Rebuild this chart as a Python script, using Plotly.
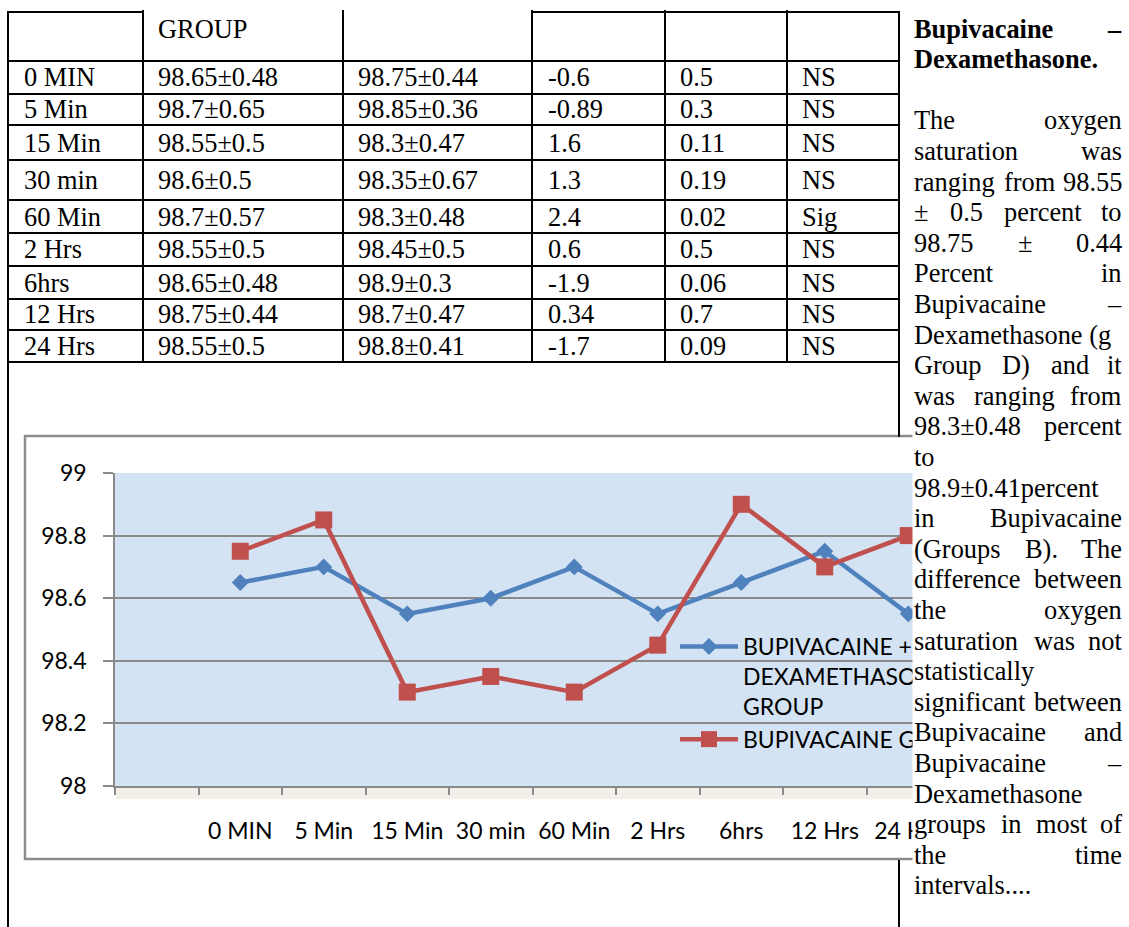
import plotly.graph_objects as go

# ---------------- data ----------------
times = ["0 MIN", "5 Min", "15 Min", "30 min", "60 Min", "2 Hrs", "6hrs", "12 Hrs", "24 Hrs"]
bd_mean = [98.65, 98.7, 98.55, 98.6, 98.7, 98.55, 98.65, 98.75, 98.55]
bd_sd = [0.48, 0.65, 0.5, 0.5, 0.57, 0.5, 0.48, 0.44, 0.5]
b_mean = [98.75, 98.85, 98.3, 98.35, 98.3, 98.45, 98.9, 98.7, 98.8]
b_sd = [0.44, 0.36, 0.47, 0.67, 0.48, 0.5, 0.3, 0.47, 0.41]
t_vals = ["-0.6", "-0.89", "1.6", "1.3", "2.4", "0.6", "-1.9", "0.34", "-1.7"]
p_vals = ["0.5", "0.3", "0.11", "0.19", "0.02", "0.5", "0.06", "0.7", "0.09"]
sig = ["NS", "NS", "NS", "NS", "Sig", "NS", "NS", "NS", "NS"]
series_names = ["BUPIVACAINE +<br>DEXAMETHASONE<br>GROUP", "BUPIVACAINE GROUP"]
header_text = "GROUP"
heading_lines = [("Bupivacaine –", True), ("Dexamethasone.", False)]
paragraph_lines = [
    ("The oxygen", True), ("saturation was", True), ("ranging from 98.55", True),
    ("± 0.5 percent to", True), ("98.75 ± 0.44", True), ("Percent in", True),
    ("Bupivacaine –", True), ("Dexamethasone (g", False), ("Group D) and it", True),
    ("was ranging from", True), ("98.3±0.48 percent", True), ("to", False),
    ("98.9±0.41percent", False), ("in Bupivacaine", True), ("(Groups B). The", True),
    ("difference between", True), ("the oxygen", True), ("saturation was not", True),
    ("statistically", False), ("significant between", True), ("Bupivacaine and", True),
    ("Bupivacaine –", True), ("Dexamethasone", False), ("groups in most of", True),
    ("the time", True), ("intervals....", False),
]

# ---------------- page geometry helpers ----------------
W, H = 1129, 927
def px(x):
    return x / W
def py(y):
    return 1 - y / H

BLUE = "#4f81bd"
RED = "#c0504d"
GRID = "#8a8a8a"
SERIF = "Liberation Serif, Times New Roman, serif"
SANS = "Lato, Open Sans, sans-serif"
FS = 26.4

# Times metrics (per 1000 em) for justification
TR = {' ': 250, '(': 333, ')': 333, '.': 250, '±': 564, '–': 500, '+': 564}
for c in '0123456789':
    TR[c] = 500
TR.update(dict(A=722, B=667, C=667, D=722, E=611, G=722, P=556, R=667, T=611, U=722, O=722))
TR.update(dict(a=444, b=500, c=444, d=500, e=444, f=333, g=500, h=500, i=278, l=278, m=778,
               n=500, o=500, p=500, r=333, s=389, t=278, u=500, v=500, w=722, x=500, y=500))
TB = dict(TR)
TB.update(dict(a=500, n=556, p=556, u=556, h=556, m=833, t=333))

def text_w(s, bold=False):
    tbl = TB if bold else TR
    return sum(tbl.get(ch, 500) for ch in s) / 1000 * FS

fig = go.Figure()

fig.add_trace(go.Scatter(
    x=times, y=bd_mean, mode="lines+markers", name=series_names[0],
    line=dict(color=BLUE, width=4.5),
    marker=dict(symbol="diamond", size=13, color=BLUE),
))
fig.add_trace(go.Scatter(
    x=times, y=b_mean, mode="lines+markers", name=series_names[1],
    line=dict(color=RED, width=4.5),
    marker=dict(symbol="square", size=17, color=RED),
))

shapes = []
# chart frame
shapes.append(dict(type="rect", xref="paper", yref="paper", x0=px(25), x1=px(1000),
                   y0=py(859), y1=py(436), line=dict(color="#8c8c8c", width=2.5),
                   fillcolor="rgba(0,0,0,0)", layer="below"))
# soft shadow under plot area
shapes.append(dict(type="rect", xref="paper", yref="paper", x0=px(116), x1=px(950),
                   y0=py(799), y1=py(787), line=dict(width=0),
                   fillcolor="#f1efe8", layer="below"))

# table lines
def hline(y, x0, x1):
    shapes.append(dict(type="line", xref="paper", yref="paper", x0=px(x0), x1=px(x1),
                       y0=py(y), y1=py(y), line=dict(color="black", width=2)))
def vline(x, y0, y1):
    shapes.append(dict(type="line", xref="paper", yref="paper", x0=px(x), x1=px(x),
                       y0=py(y0), y1=py(y1), line=dict(color="black", width=2)))

row_edges = [61, 94, 125, 160, 200, 233, 266, 299, 330, 362]
col_x = [8, 143, 343, 532, 665, 787, 899]
hline(12, 8, 143)
hline(12, 532, 899)
for y in row_edges:
    hline(y, 8, 899)
vline(8, 11, 927)
for x in col_x[1:-1]:
    vline(x, 10, 362)
vline(899, 11, 437)
vline(899, 860, 927)

annotations = []
def ann(text, x, y, size=FS, family=SERIF, anchor="left", color="black"):
    annotations.append(dict(text=text, x=px(x), y=py(y), xref="paper", yref="paper",
                            xanchor=anchor, yanchor="middle", showarrow=False, borderpad=0,
                            font=dict(family=family, size=size, color=color)))

# table text
text_x = [23, 157, 357, 547, 679, 801]
ann(header_text, text_x[1], 29)
for i, t in enumerate(times):
    yc = (row_edges[i] + row_edges[i + 1]) / 2
    cells = [t, f"{bd_mean[i]}±{bd_sd[i]}", f"{b_mean[i]}±{b_sd[i]}", t_vals[i], p_vals[i], sig[i]]
    for cx, cell in zip(text_x, cells):
        ann(cell, cx, yc)

# white cover over the chart's overflow into the text column
annotations.append(dict(text=" ", x=px(912), y=py(648), xref="paper", yref="paper",
                        xanchor="left", yanchor="middle", showarrow=False, width=215, height=440,
                        bgcolor="white", borderpad=0))

# text column
L, R = 913, 1123
Y0, STEP = 28.5, 30.6
def put_line(line, justified, idx, bold=False):
    y = Y0 + idx * STEP
    fmt = (lambda s: f"<b>{s}</b>") if bold else (lambda s: s)
    words = line.split(" ")
    if not justified or len(words) == 1:
        ann(fmt(line), L, y)
        return
    widths = [text_w(w, bold) for w in words]
    gap = (R - L - sum(widths)) / (len(words) - 1)
    x = L
    for k, (w, wd) in enumerate(zip(words, widths)):
        if k == len(words) - 1:
            ann(fmt(w), R, y, anchor="right")
        else:
            ann(fmt(w), x, y)
        x += wd + gap

for k, (line, j) in enumerate(heading_lines):
    put_line(line, j, k, bold=True)
for k, (line, j) in enumerate(paragraph_lines):
    put_line(line, j, k + 3)

fig.update_layout(
    width=W, height=H, autosize=False,
    margin=dict(l=0, r=0, t=0, b=0, pad=0),
    paper_bgcolor="white", plot_bgcolor="#d4e3f4",
    font=dict(family=SANS, size=23, color="black"),
    showlegend=True,
    legend=dict(x=px(675), y=py(625), xanchor="left", yanchor="top",
                bgcolor="rgba(0,0,0,0)", valign="top", itemwidth=58,
                font=dict(family=SANS, size=23, color="black"), tracegroupgap=0),
    xaxis=dict(domain=[px(115), px(950)], type="category",
               categoryorder="array", categoryarray=[" "] + times,
               range=[-0.5, len(times) + 0.5], tickson="boundaries",
               ticks="outside", ticklen=7, tickwidth=1.5, tickcolor=GRID,
               showline=True, linecolor=GRID, linewidth=1.5, showgrid=False,
               zeroline=False, ticklabelstandoff=24, automargin=False,
               tickfont=dict(family=SANS, size=23, color="black")),
    yaxis=dict(domain=[py(786), py(473)], range=[98, 99], dtick=0.2, tick0=98,
               ticks="outside", ticklen=10, tickwidth=1.5, tickcolor=GRID,
               showline=True, linecolor=GRID, linewidth=1.5,
               showgrid=True, gridcolor=GRID, gridwidth=1.5, zeroline=False,
               ticklabelstandoff=12, automargin=False,
               tickfont=dict(family=SANS, size=23, color="black")),
    shapes=shapes,
    annotations=annotations,
)

fig.write_html("out.html", config={"displayModeBar": False},
               post_script="document.body.style.margin='0';document.body.style.overflow='hidden';")
